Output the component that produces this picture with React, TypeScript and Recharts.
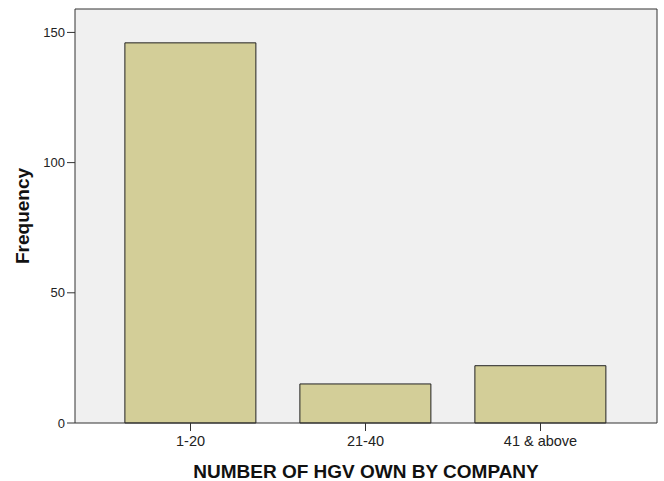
import React from "react";
import { BarChart, Bar, XAxis, YAxis, CartesianGrid, Label } from "recharts";

const categories = ["1-20", "21-40", "41 & above"];
const frequencies = [146, 15, 22];
const yTicks = [0, 50, 100, 150];

const data = categories.map((c, i) => ({ name: c, value: frequencies[i] }));

const font = "'Liberation Sans', Arial, sans-serif";

export default function App() {
  return (
    <div style={{ position: "absolute", left: 0, top: 0 }}>
      <BarChart
        width={664}
        height={481}
        data={data}
        margin={{ top: 9, right: 7, bottom: 28, left: 30 }}
        barCategoryGap="12.5%"
      >
        <CartesianGrid
          fill="#f0f0f0"
          stroke="#333"
          strokeDasharray="0"
          horizontalCoordinatesGenerator={({ offset }: any) => [offset.top]}
          verticalCoordinatesGenerator={({ offset }: any) => [offset.left + offset.width]}
        />
        <XAxis
          dataKey="name"
          padding={{ left: 28, right: 29 }}
          height={30}
          tickSize={8}
          axisLine={{ stroke: "#333" }}
          tickLine={{ stroke: "#333" }}
          tick={{ fill: "#222", fontSize: 14.5, fontFamily: font, dy: 3 }}
        >
          <Label
            value="NUMBER OF HGV OWN BY COMPANY"
            position="bottom"
            offset={12}
            style={{ fill: "#111", fontSize: 19, fontWeight: "bold", fontFamily: font }}
          />
        </XAxis>
        <YAxis
          domain={[0, 159]}
          ticks={yTicks}
          width={45}
          tickSize={8}
          axisLine={{ stroke: "#333" }}
          tickLine={{ stroke: "#333" }}
          tick={{ fill: "#222", fontSize: 13, fontFamily: font }}
        >
          <Label
            value="Frequency"
            angle={-90}
            position="insideLeft"
            offset={-8}
            style={{ fill: "#111", fontSize: 19, fontWeight: "bold", fontFamily: font, textAnchor: "middle" }}
          />
        </YAxis>
        <Bar
          dataKey="value"
          fill="#d3ce98"
          stroke="#222"
          strokeWidth={1}
          isAnimationActive={false}
        />
      </BarChart>
    </div>
  );
}
